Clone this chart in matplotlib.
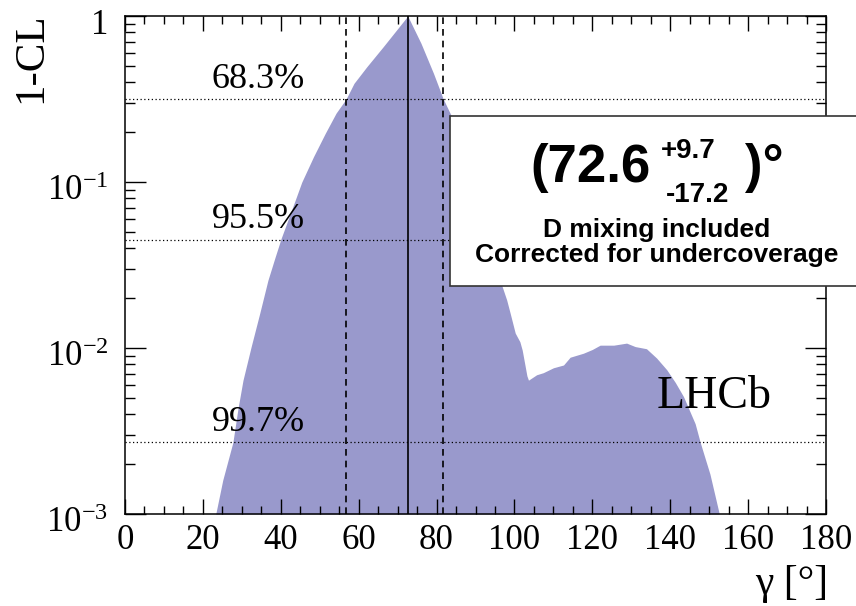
import matplotlib
matplotlib.use("Agg")
import matplotlib.pyplot as plt
from matplotlib.patches import Rectangle
from matplotlib.transforms import ScaledTranslation
from matplotlib.ticker import FixedLocator, MultipleLocator, LogLocator, NullFormatter

plt.rcParams['font.family'] = ['Liberation Serif', 'DejaVu Serif']
plt.rcParams['mathtext.fontset'] = 'custom'
plt.rcParams['mathtext.rm'] = 'Liberation Serif'
plt.rcParams['mathtext.it'] = 'Liberation Serif:italic'

# 1-CL scan of gamma (degrees)
gamma = [23.3, 25.1, 27.7, 29.0, 30.3, 32.4, 34.6, 36.7, 38.5, 40.1, 42.8, 45.4,
         48.4, 51.4, 54.2, 56.8, 58.8, 62.1, 66.3, 72.6, 76.0, 79.2, 81.7, 83.7,
         86.0, 89.0, 92.0, 94.5, 96.7, 98.0, 98.9, 100.2, 101.4, 102.0, 103.2,
         103.6, 105.7, 107.4, 110.0, 112.6, 114.3, 117.7, 120.0, 122.0, 125.5,
         128.8, 131.0, 133.9, 136.5, 139.1, 141.3, 143.4, 146.4, 147.7, 150.2,
         152.6]
one_minus_cl = [0.001, 0.0016, 0.0027, 0.0043, 0.0064, 0.0102, 0.0162, 0.0256,
                0.035, 0.0458, 0.068, 0.100, 0.142, 0.196, 0.26, 0.317, 0.393,
                0.495, 0.653, 1.0, 0.685, 0.452, 0.317, 0.253, 0.19, 0.12, 0.07,
                0.040, 0.024, 0.0195, 0.0162, 0.0123, 0.0109, 0.0097, 0.0068,
                0.0064, 0.0069, 0.0071, 0.0076, 0.0079, 0.0088, 0.0093, 0.0098,
                0.0104, 0.0104, 0.0107, 0.0102, 0.0099, 0.0087, 0.0074, 0.0062,
                0.0051, 0.0035, 0.0027, 0.00174, 0.001]

central = 72.6
err_up, err_down = 9.7, 17.2
interval = [56.8, 81.7]
cl_levels = [0.317, 0.045, 0.0027]
cl_labels = ['68.3%', '95.5%', '99.7%']
cl_label_y = [0.368, 0.0529, 0.00316]

W, H = 856, 606
fig = plt.figure(figsize=(W / 100, H / 100), dpi=100)
ax = fig.add_axes([125 / W, 1 - 514 / H, 701 / W, 498 / H])


def fx(px):
    return px / W


def fy(py):
    return 1 - py / H


ax.fill_between(gamma, one_minus_cl, 1e-3, color='#9999cc', lw=0, zorder=1)

for lev in cl_levels:
    ax.axhline(lev, color='black', ls=(0, (1, 2)), lw=0.9, zorder=2)
ax.axvline(central, color='black', lw=1.2, zorder=3)
for v in interval:
    ax.axvline(v, color='black', ls=(0, (4, 3)), lw=1.2, zorder=3)

for lab, yl in zip(cl_labels, cl_label_y):
    ax.text(22.3, yl, lab, fontsize=26, ha='left', va='baseline', zorder=4)

ax.text(136.5, 0.00438, 'LHCb', fontsize=33, ha='left', va='baseline', zorder=4)

ax.set_xlim(0, 180)
ax.set_yscale('log')
ax.set_ylim(1e-3, 1)

ax.xaxis.set_major_locator(MultipleLocator(20))
ax.xaxis.set_minor_locator(MultipleLocator(5))
ax.yaxis.set_major_locator(FixedLocator([1e-3, 1e-2, 1e-1, 1]))
ax.yaxis.set_minor_locator(LogLocator(base=10, subs=range(2, 10)))
ax.yaxis.set_minor_formatter(NullFormatter())
ax.set_yticklabels([r'$10^{-3}$', r'$10^{-2}$', r'$10^{-1}$', '1'])

ax.tick_params(axis='x', which='major', direction='in', top=True, length=11,
               width=1, labelsize=25, pad=7)
ax.tick_params(axis='x', which='minor', direction='in', top=True, length=5.5, width=1)
ax.tick_params(axis='y', which='major', direction='in', right=True, length=15,
               width=1, labelsize=25, pad=12)
ax.tick_params(axis='y', which='minor', direction='in', right=True, length=7.5, width=1)
for s in ax.spines.values():
    s.set_linewidth(1.1)

# nudge y labels down a little, ROOT-style
shift = ScaledTranslation(0, -5 / 100, fig.dpi_scale_trans)
for lbl in ax.get_yticklabels():
    lbl.set_transform(lbl.get_transform() + shift)

fig.text(fx(31), fy(12), '1-CL', fontsize=31, rotation=90, ha='center', va='top')
fig.text(fx(828), fy(603), 'γ [°]', fontsize=30, ha='right', va='bottom')

# result box
box = Rectangle((fx(450), fy(286)), 0.6, fy(116) - fy(286), transform=fig.transFigure,
                facecolor='white', edgecolor='#333333', lw=1.2, clip_on=False, zorder=5)
fig.add_artist(box)

bold = dict(family=['Liberation Sans', 'DejaVu Sans'], weight='bold', color='black',
            zorder=6)
fig.text(fx(530), fy(182), f'({central}', fontsize=38, ha='left', va='baseline', **bold)
fig.text(fx(661), fy(158), f'+{err_up}', fontsize=20, ha='left', va='baseline', **bold)
fig.text(fx(666), fy(202), f'-{err_down}', fontsize=20, ha='left', va='baseline', **bold)
fig.text(fx(745), fy(182), ')°', fontsize=38, ha='left', va='baseline', **bold)
fig.text(fx(657), fy(237), 'D mixing included', fontsize=19, ha='center',
         va='baseline', **bold)
fig.text(fx(657), fy(262), 'Corrected for undercoverage', fontsize=19, ha='center',
         va='baseline', **bold)

fig.savefig('out.png', dpi=100)
